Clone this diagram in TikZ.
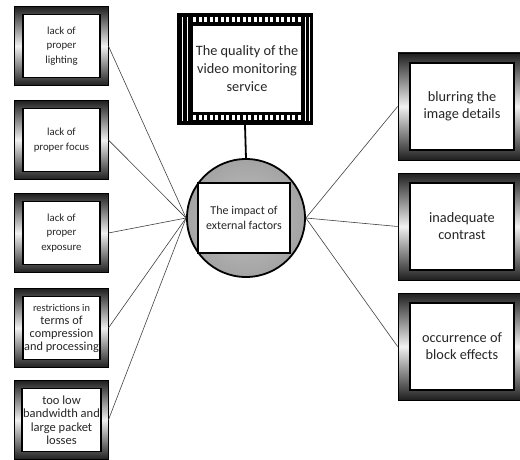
\documentclass[tikz,border=0pt]{standalone}
\usepackage{fontspec}
\setmainfont{Carlito}
\tikzset{
lframe/.style={rectangle, draw=black, line width=0.8pt, top color=black!88, bottom color=black!88, middle color=black!6, minimum width=94pt, minimum height=79pt, inner sep=0pt},
ltext/.style={rectangle, draw=black, fill=white, line width=1.3pt, minimum width=77pt, minimum height=63pt, inner sep=1pt, align=center, text=black!85, font=\fontsize{10.8}{14.5}\selectfont},
rframe/.style={lframe, minimum width=124pt, minimum height=107pt},
rtext/.style={ltext, line width=1.8pt, minimum width=104pt, minimum height=87pt, font=\fontsize{14.3}{17}\selectfont},
qframe/.style={rectangle, fill=black, minimum width=136pt, minimum height=112pt, inner sep=0pt},
qtext/.style={rtext, line width=1.2pt, minimum width=110pt, minimum height=88pt, font=\fontsize{14.3}{18}\selectfont},
hub/.style={circle, draw=black, line width=1.8pt, inner color=black!24, outer color=black!36, minimum size=118pt, inner sep=0pt},
hubtext/.style={ltext, line width=1.8pt, minimum width=92pt, minimum height=70pt, font=\fontsize{12}{15}\selectfont},
link/.style={draw=black!75, line width=0.6pt},
stem/.style={draw=black, line width=1.8pt}
}
\begin{document}
\begin{tikzpicture}[x=1pt,y=-1pt]
\useasboundingbox (0,0) rectangle (520,460);
\node[qframe] (qualityframe) at (245,69) {};
\foreach \i in {0,...,19}
{
\fill[white] (193+\i*5.5,17.5) rectangle ++(3,5);
\fill[white] (193+\i*5.5,115) rectangle ++(3,5);
}
\foreach \x in {182,187,305,309.5}
\draw[white, line width=0.45pt] (\x,17) -- (\x,121);
\node[qtext] (quality) at (247,69) {The quality of the\\video monitoring\\service};
\node[hub] (impact) at (246,218) {};
\draw[stem] (qualityframe.south) -- (impact.north);
\node[lframe] (lf1) at (61,46) {};
\node[ltext] (lt1) at (61.5,46) {lack of\\proper\\lighting};
\node[lframe] (lf2) at (61,140) {};
\node[ltext] (lt2) at (61.5,140) {lack of\\proper focus};
\node[lframe] (lf3) at (61,233) {};
\node[ltext] (lt3) at (61.5,233) {lack of\\proper\\exposure};
\node[lframe] (lf4) at (61,328) {};
\node[ltext, font=\fontsize{12.3}{13}\selectfont] (lt4) at (61.5,328) {{\fontsize{10.3}{13}\selectfont restrictions in}\\terms of\\compression\\and processing};
\node[lframe] (lf5) at (61,420) {};
\node[ltext, font=\fontsize{12.5}{13.5}\selectfont] (lt5) at (61.5,420) {too low\\bandwidth and\\large packet\\losses};
\node[rframe] (rf1) at (460,106.5) {};
\node[rtext] (rt1) at (462,106.5) {blurring the\\image details};
\node[rframe] (rf2) at (460,226.5) {};
\node[rtext] (rt2) at (462,226.5) {inadequate\\contrast};
\node[rframe] (rf3) at (460,346.5) {};
\node[rtext] (rt3) at (462,346.5) {occurrence of\\block effects};
\foreach \i in {1,...,5}
\draw[link] (lf\i.east) -- (impact.west);
\foreach \i in {1,2,3}
\draw[link] (impact.east) -- (rf\i.west);
\node[hubtext] (impacttext) at (244,218) {The impact of\\external factors};
\end{tikzpicture}
\end{document}
